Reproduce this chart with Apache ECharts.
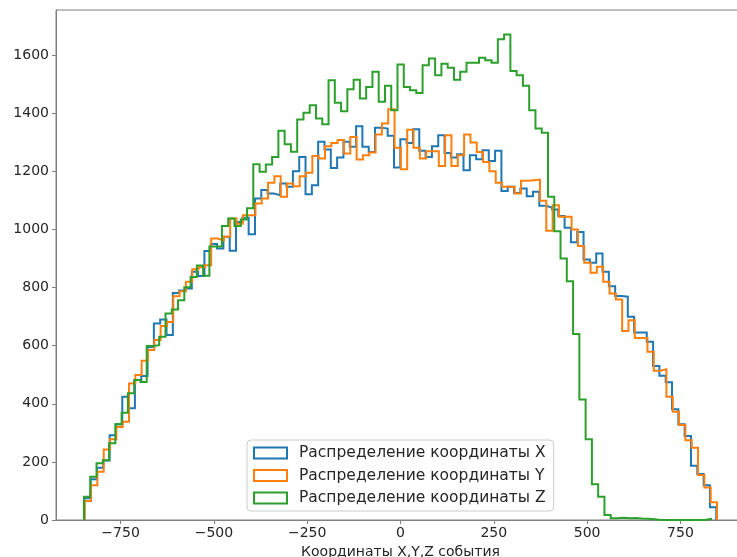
<!DOCTYPE html>
<html>
<head>
<meta charset="utf-8">
<script src="https://cdn.jsdelivr.net/npm/echarts@6/dist/echarts.min.js"></script>
<style>
html,body{margin:0;padding:0;background:#fff;}
#chart{width:737px;height:557px;}
</style>
</head>
<body>
<div id="chart"></div>
<script>
// Bin ranges (each histogram has its own 100 equal bins)
const rangeX = [-847, 846];
const rangeY = [-846, 848];
const rangeZ = [-848, 832];

// Counts per bin
const countsX = [75,140,180,205,292,330,424,385,482,496,
596,677,690,637,782,790,797,855,840,926,
950,935,975,927,1026,1041,984,1107,1136,1124,
1118,1159,1147,1201,1250,1122,1153,1302,1276,1212,
1248,1302,1285,1356,1285,1267,1351,1348,1323,1214,
1311,1298,1345,1271,1250,1287,1325,1264,1248,1259,
1204,1256,1242,1273,1236,1271,1133,1147,1126,1141,
1115,1130,1082,1076,1069,1047,1006,956,992,897,
886,918,855,805,771,769,700,646,646,614,
530,497,474,381,330,289,187,158,120,44];

const countsY = [65,120,166,243,278,320,338,470,499,548,
585,620,668,682,770,788,820,863,870,877,
969,963,975,1038,1020,1049,1049,1090,1107,1161,
1184,1113,1159,1149,1184,1196,1253,1245,1287,1298,
1308,1262,1319,1241,1256,1265,1327,1365,1414,1282,
1208,1344,1282,1245,1270,1270,1219,1325,1219,1256,
1327,1300,1267,1233,1201,1161,1147,1147,1124,1168,
1170,1172,1099,996,1084,1044,1044,1000,943,886,
851,872,820,780,759,651,688,627,627,579,
514,519,424,373,327,275,249,155,112,61];

const countsZ = [80,149,195,206,264,330,369,436,482,475,
599,602,631,711,725,757,801,837,876,841,
942,942,1012,1038,1012,1035,1073,1225,1199,1224,
1250,1340,1294,1268,1379,1402,1428,1382,1363,1514,
1437,1407,1483,1516,1451,1491,1543,1440,1495,1411,
1568,1491,1480,1470,1566,1589,1531,1571,1557,1516,
1543,1574,1574,1592,1583,1574,1655,1672,1546,1531,
1495,1411,1348,1333,1113,994,900,822,640,415,
278,123,80,17,6,8,6,7,5,4,
3,0,0,0,0,0,0,0,0,4];

const seriesNames = ['Распределение координаты X','Распределение координаты Y','Распределение координаты Z'];
const xTicks = [-750,-500,-250,0,250,500,750];
const yTicks = [0,200,400,600,800,1000,1200,1400,1600];
const xLabel = 'Координаты X,Y,Z события';
const colors = ['#1f77b4','#ff7f0e','#2ca02c'];

function stepOutline(range, counts){
  const n = counts.length;
  const w = (range[1]-range[0])/n;
  const pts = [[range[0],0]];
  for(let i=0;i<n;i++){
    const a = range[0]+i*w, b = range[0]+(i+1)*w;
    pts.push([a,counts[i]]);
    pts.push([b,counts[i]]);
  }
  pts.push([range[1],0]);
  return pts;
}

const datasets = [stepOutline(rangeX,countsX), stepOutline(rangeY,countsY), stepOutline(rangeZ,countsZ)];

const chart = echarts.init(document.getElementById('chart'), null, {renderer:'canvas'});
const font = 'DejaVu Sans';
chart.setOption({
  animation:false,
  backgroundColor:'#ffffff',
  textStyle:{fontFamily:font},
  grid:{left:56, top:10, bottom:37, right:-8, outerBoundsMode:'none', containLabel:false,
    show:true, borderColor:'#808080', borderWidth:1, backgroundColor:'transparent'},
  xAxis:{
    type:'value', min:-923, max:923,
    name:xLabel, nameLocation:'middle', nameGap:23,
    nameTextStyle:{fontFamily:font, fontSize:14, color:'#262626'},
    axisLine:{show:true, onZero:false, lineStyle:{color:'#808080', width:1}},
    axisTick:{show:true, length:4, lineStyle:{color:'#808080'}, customValues:xTicks},
    axisLabel:{fontFamily:font, fontSize:14, color:'#262626', margin:6, customValues:xTicks,
      formatter:v=>String(v).replace('-','\u2212')},
    splitLine:{show:false}
  },
  yAxis:{
    type:'value', min:0, max:1756, interval:200,
    axisLine:{show:true, onZero:false, lineStyle:{color:'#808080', width:1}},
    axisTick:{show:true, length:4, lineStyle:{color:'#808080'}, customValues:yTicks},
    axisLabel:{fontFamily:font, fontSize:14, color:'#262626', margin:7, customValues:yTicks,
      formatter:v=>String(v)},
    splitLine:{show:false}
  },
  legend:{
    orient:'vertical', left:247, top:440,
    padding:[5,8,5,6], itemGap:6.5, itemWidth:33, itemHeight:11,
    backgroundColor:'rgba(255,255,255,0.8)', borderColor:'#cccccc', borderWidth:1, borderRadius:4,
    textStyle:{fontFamily:font, fontSize:15.5, color:'#262626', lineHeight:16, padding:[0,0,0,7]},
    data:seriesNames.map((n,i)=>({name:n, icon:'rect', itemStyle:{color:'rgba(255,255,255,0)', borderColor:colors[i], borderWidth:2}}))
  },
  series:seriesNames.map((n,i)=>({
    name:n, type:'line', data:datasets[i], showSymbol:false, symbol:'none',
    lineStyle:{color:colors[i], width:2, join:'miter'}, itemStyle:{color:colors[i]},
    z:2+i, clip:true
  }))
});
</script>
</body>
</html>
